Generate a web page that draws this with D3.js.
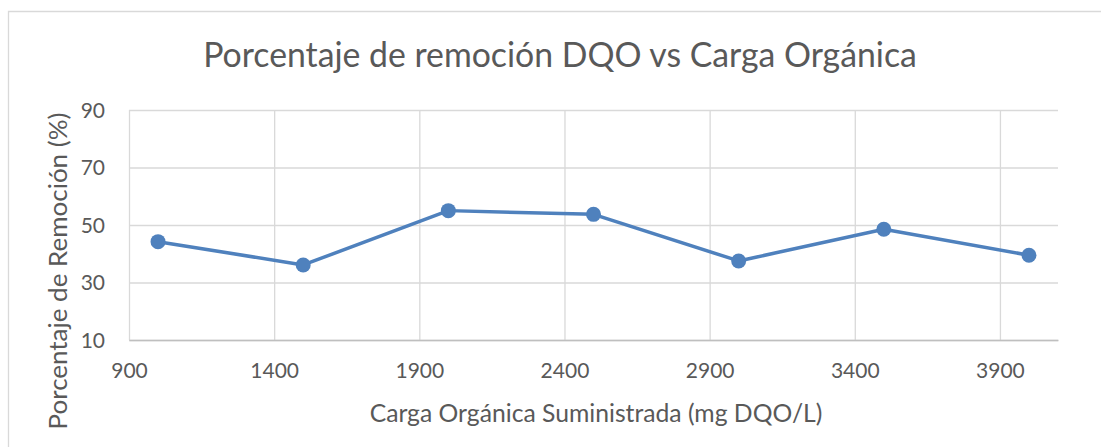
<!DOCTYPE html>
<html>
<head>
<meta charset="utf-8">
<script src="https://cdn.jsdelivr.net/npm/d3@7"></script>
<style>
  body { margin: 0; background: #fff; }
  svg { display: block; font-family: Lato, 'Open Sans', sans-serif; }
</style>
</head>
<body>
<svg id="chart"></svg>
<script>
const cargas = [1000, 1500, 2000, 2500, 3000, 3500, 4000];
const remocion = [44.2, 36.1, 55.0, 53.7, 37.5, 48.5, 39.5];
const xTicks = [900, 1400, 1900, 2400, 2900, 3400, 3900];
const yTicks = [10, 30, 50, 70, 90];

const width = 1101;
const height = 447;
const margin = {top: 110, right: 43, bottom: 107, left: 129};
const innerWidth = width - margin.left - margin.right;
const innerHeight = height - margin.top - margin.bottom;

const svg = d3.select('#chart')
    .attr('width', width)
    .attr('height', height)
    .attr('overflow', 'hidden');

// chart frame (only left and top edges visible)
svg.append('path')
    .attr('d', `M8.5,${height} V11.5 H${width}`)
    .attr('fill', 'none')
    .attr('stroke', '#d9d9d9')
    .attr('stroke-width', 1.3);

const g = svg.append('g')
    .attr('transform', `translate(${margin.left}, ${margin.top})`);

const xScale = d3.scaleLinear().domain([900, 4100]).range([0, innerWidth]);
const yScale = d3.scaleLinear().domain([10, 90]).range([innerHeight, 0]);

// strip the defaults d3 puts on an axis group
function plain(a) {
    a.attr('fill', null).attr('font-size', null).attr('font-family', null).attr('text-anchor', null);
}

// gridlines
g.append('g').call(d3.axisLeft(yScale).tickValues(yTicks).tickSize(-innerWidth).tickFormat(''))
    .call(plain)
    .call(a => a.select('.domain').remove())
    .call(a => a.selectAll('text').remove())
    .selectAll('line').attr('stroke', '#d9d9d9').attr('stroke-width', 1.3);
g.append('g').call(d3.axisBottom(xScale).tickValues(xTicks).tickSize(innerHeight).tickFormat(''))
    .call(plain)
    .call(a => a.select('.domain').remove())
    .call(a => a.selectAll('text').remove())
    .selectAll('line').attr('stroke', '#d9d9d9').attr('stroke-width', 1.3);

// x axis
const xAxis = g.append('g')
    .attr('transform', `translate(0,${innerHeight})`)
    .call(d3.axisBottom(xScale).tickValues(xTicks).tickSize(0).tickPadding(38).tickFormat(d3.format('d')))
    .call(plain);
xAxis.select('.domain').attr('stroke', '#bfbfbf').attr('stroke-width', 1.5);
xAxis.selectAll('text')
    .attr('dy', null)
    .attr('text-anchor', 'middle')
    .attr('fill', '#595959')
    .attr('font-size', 21);

// y axis
const yAxis = g.append('g')
    .call(d3.axisLeft(yScale).tickValues(yTicks).tickSize(0).tickPadding(24))
    .call(plain);
yAxis.select('.domain').remove();
yAxis.selectAll('text')
    .attr('dy', 7)
    .attr('text-anchor', 'end')
    .attr('fill', '#595959')
    .attr('font-size', 21);

// line + markers
const pts = cargas.map((c, i) => [c, remocion[i]]);
g.append('path')
    .datum(pts)
    .attr('fill', 'none')
    .attr('stroke', '#4f81bd')
    .attr('stroke-width', 3.5)
    .attr('stroke-linejoin', 'round')
    .attr('d', d3.line().x(d => xScale(d[0])).y(d => yScale(d[1])));
g.selectAll('circle').data(pts)
    .enter().append('circle')
        .attr('cx', d => xScale(d[0]))
        .attr('cy', d => yScale(d[1]))
        .attr('r', 7.5)
        .attr('fill', '#4f81bd');

// titles, scaled to the widths in the reference
function fitText(sel, target) {
    const w = sel.node().getComputedTextLength();
    const fs = +sel.attr('font-size');
    sel.attr('font-size', fs * target / w);
}

const title = svg.append('text')
    .attr('x', 560).attr('y', 67)
    .attr('text-anchor', 'middle')
    .attr('fill', '#595959')
    .attr('font-size', 40)
    .text('Porcentaje de remoción DQO vs Carga Orgánica');
fitText(title, 714);

const xTitle = svg.append('text')
    .attr('x', 596).attr('y', 422)
    .attr('text-anchor', 'middle')
    .attr('fill', '#595959')
    .attr('font-size', 22)
    .text('Carga Orgánica Suministrada (mg DQO/L)');
fitText(xTitle, 453);

const yTitle = svg.append('text')
    .attr('transform', 'translate(67,271) rotate(-90)')
    .attr('text-anchor', 'middle')
    .attr('fill', '#595959')
    .attr('font-size', 22)
    .text('Porcentaje de Remoción (%)');
fitText(yTitle, 317);
</script>
</body>
</html>
